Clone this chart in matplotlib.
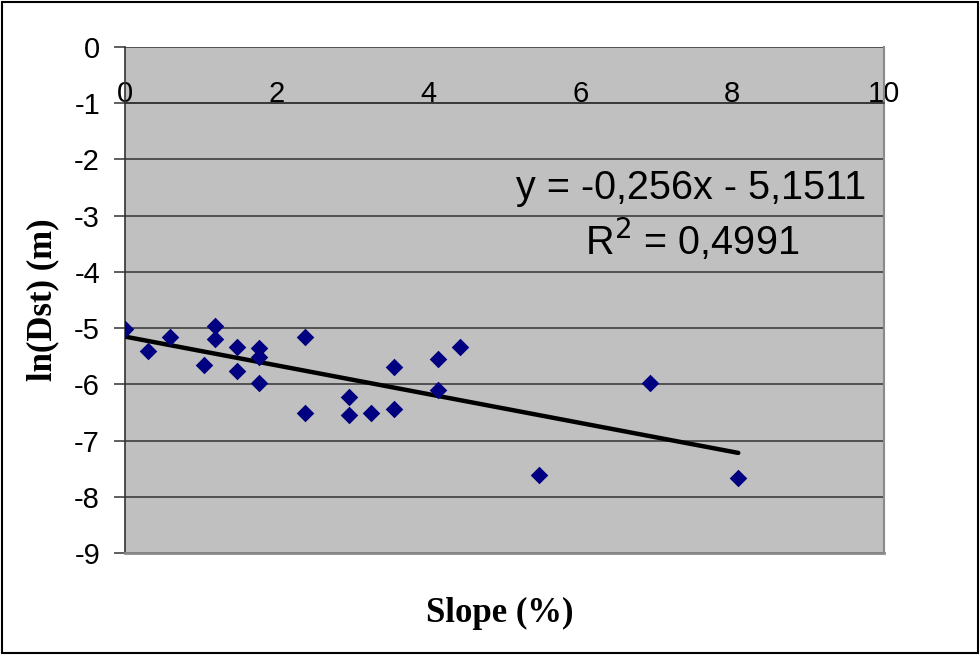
import matplotlib
matplotlib.use("Agg")
import matplotlib.pyplot as plt
from matplotlib.patches import Rectangle

# Sediment sampling sites: slope (%) vs ln of distance (m)
slope = [0.00, 0.30, 0.59, 1.04, 1.18, 1.18, 1.48, 1.48, 1.77, 1.77, 1.77,
         2.37, 2.37, 2.95, 2.95, 3.24, 3.55, 3.55, 4.13, 4.13, 4.42,
         5.45, 6.92, 8.08]
ln_dst = [-5.02, -5.41, -5.16, -5.66, -4.96, -5.20, -5.34, -5.76, -5.36, -5.51, -5.98,
          -5.15, -6.51, -6.23, -6.55, -6.51, -5.69, -6.44, -5.55, -6.10, -5.34,
          -7.62, -5.98, -7.66]

# Linear trend reported on the chart
trend_slope = -0.256
trend_icept = -5.1511
r_squared = 0.4991

x_ticks = [0, 2, 4, 6, 8, 10]
y_ticks = [0, -1, -2, -3, -4, -5, -6, -7, -8, -9]

W, H = 980, 655
fig = plt.figure(figsize=(W / 100, H / 100), dpi=100)
fig.patch.set_facecolor("white")

left, right, top, bottom = 125, 884, 47, 553
ax = fig.add_axes([left / W, 1 - bottom / H, (right - left) / W, (bottom - top) / H])
ax.set_facecolor("#C0C0C0")
ax.set_xlim(0, 10)
ax.set_ylim(-9, 0)

# horizontal gridlines
for yv in y_ticks:
    ax.axhline(yv, color="#333333", lw=1.1, zorder=1)

# plot-area border
ax.spines["top"].set_visible(False)
ax.spines["right"].set_color("#8a8a8a")
ax.spines["right"].set_linewidth(1.5)
ax.spines["left"].set_color("#333333")
ax.spines["left"].set_linewidth(1.2)
ax.spines["bottom"].set_position(("data", -1))
ax.spines["bottom"].set_color("#333333")
ax.spines["bottom"].set_linewidth(1.1)
ax.plot([0, 1], [0, 0], transform=ax.transAxes, color="#8a8a8a", lw=2.0,
        clip_on=False, zorder=3)

font_sans = "Liberation Sans"
font_serif = "Liberation Serif"

ax.set_yticks(y_ticks)
ax.set_yticklabels([str(v) for v in y_ticks], fontfamily=font_sans, fontsize=21)
ax.tick_params(axis="y", direction="out", length=8, width=1.1, color="#333333", pad=10)

ax.set_xticks(x_ticks)
ax.set_xticklabels([str(v) for v in x_ticks], fontfamily=font_sans, fontsize=21)
ax.tick_params(axis="x", length=0, pad=-17)

# data points
ax.scatter(slope, ln_dst, marker="D", s=80, color="#000080", zorder=5, linewidths=0)

# trend line over the range of the data
x0, x1 = min(slope), max(slope)
ax.plot([x0, x1], [trend_slope * x0 + trend_icept, trend_slope * x1 + trend_icept],
        color="black", lw=3.2, solid_capstyle="round", zorder=4)

eq = "y = {:s}x - {:s}".format(f"{trend_slope:.3f}".replace(".", ","),
                                f"{abs(trend_icept):.4f}".replace(".", ","))
fig.text(691 / W, 1 - 199 / H, eq, ha="center", va="baseline",
         fontfamily=font_sans, fontsize=28.5)
fig.text(692 / W, 1 - 255 / H, "R$^{2}$ = " + f"{r_squared:.4f}".replace(".", ","),
         ha="center", va="baseline", fontfamily=font_sans, fontsize=28.5)

fig.text(500 / W, 1 - 613 / H, "Slope (%)", ha="center", va="center",
         fontfamily=font_serif, fontweight="bold", fontsize=25)
fig.text(43 / W, 1 - 300 / H, "ln(Dst) (m)", ha="center", va="center", rotation=90,
         fontfamily=font_serif, fontweight="bold", fontsize=25)

# outer frame
fig.patches.append(Rectangle((2 / W, 2 / H), 1 - 4 / W, 1 - 4 / H, transform=fig.transFigure,
                             fill=False, edgecolor="black", lw=1.5))

fig.savefig("out.png", dpi=100)
